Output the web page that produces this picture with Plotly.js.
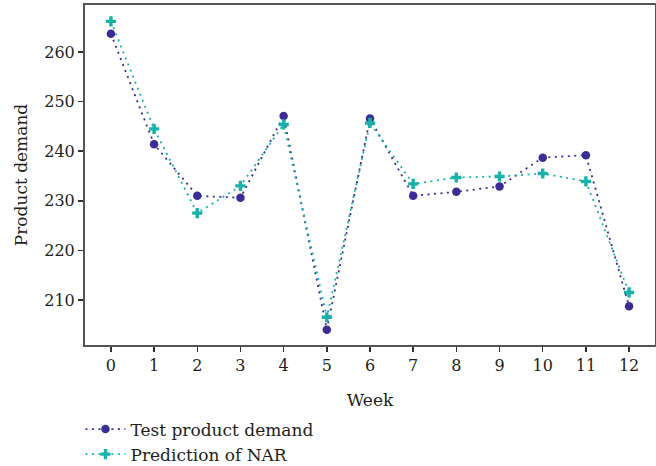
<!DOCTYPE html>
<html><head><meta charset="utf-8">
<script src="https://cdn.plot.ly/plotly-3.0.1.min.js"></script>
<style>html,body{margin:0;padding:0;background:#fff;}#chart{width:656px;height:466px;}</style>
</head><body><div id="chart"></div>
<script>
const weeks = [0,1,2,3,4,5,6,7,8,9,10,11,12];
const testDemand = [263.7,241.4,231.0,230.6,247.1,204.0,246.6,231.0,231.8,232.9,238.7,239.2,208.7];
const narPrediction = [266.2,244.5,227.5,233.0,245.4,206.5,245.7,233.4,234.7,234.9,235.5,233.9,211.5];
const xTicks = [0,1,2,3,4,5,6,7,8,9,10,11,12];
const yTicks = [210,220,230,240,250,260];

const font = "DejaVu Serif, Liberation Serif, serif";
const traces = [
  {x: weeks, y: testDemand, name: "Test product demand", mode: "lines+markers",
   line: {color: "#3a2e96", width: 1.8, dash: "2px,4.5px"},
   marker: {symbol: "circle", size: 8.5, color: "#3a2e96"}},
  {x: weeks, y: narPrediction, name: "Prediction of NAR", mode: "lines+markers",
   line: {color: "#19b2aa", width: 1.8, dash: "2px,4.5px"},
   marker: {symbol: "cross", size: 8.5, color: "#19b2aa"}}
];
const layout = {
  width: 656, height: 466,
  margin: {l: 85, r: 1, t: 5, b: 121},
  paper_bgcolor: "#fff", plot_bgcolor: "#fff",
  font: {family: font, size: 16, color: "#231f20"},
  showlegend: true,
  legend: {x: -0.008, xanchor: "left", xref: "paper", y: 0.117, yref: "container", yanchor: "top",
           orientation: "v", itemwidth: 40,
           font: {family: font, size: 17, color: "#231f20"}, tracegroupgap: 0,
           bgcolor: "rgba(0,0,0,0)"},
  xaxis: {range: [-0.6, 12.6], tickvals: xTicks, ticktext: xTicks.map(String),
          showgrid: false, zeroline: false, showline: true, linecolor: "#555", linewidth: 2, mirror: true,
          ticks: "outside", ticklen: 5, tickcolor: "#333", tickwidth: 1.5,
          tickfont: {family: font, size: 16, color: "#231f20"},
          title: {text: "Week", font: {family: font, size: 17, color: "#231f20"}, standoff: 20}},
  yaxis: {range: [200.9, 269.5], tickvals: yTicks, ticktext: yTicks.map(String),
          showgrid: false, zeroline: false, showline: true, linecolor: "#555", linewidth: 2, mirror: true,
          ticks: "outside", ticklen: 5, tickcolor: "#333", tickwidth: 1.5,
          tickfont: {family: font, size: 16, color: "#231f20"},
          title: {text: "Product demand", font: {family: font, size: 17, color: "#231f20"}, standoff: 12}}
};
Plotly.newPlot("chart", traces, layout, {displayModeBar: false, staticPlot: true});
</script></body></html>
